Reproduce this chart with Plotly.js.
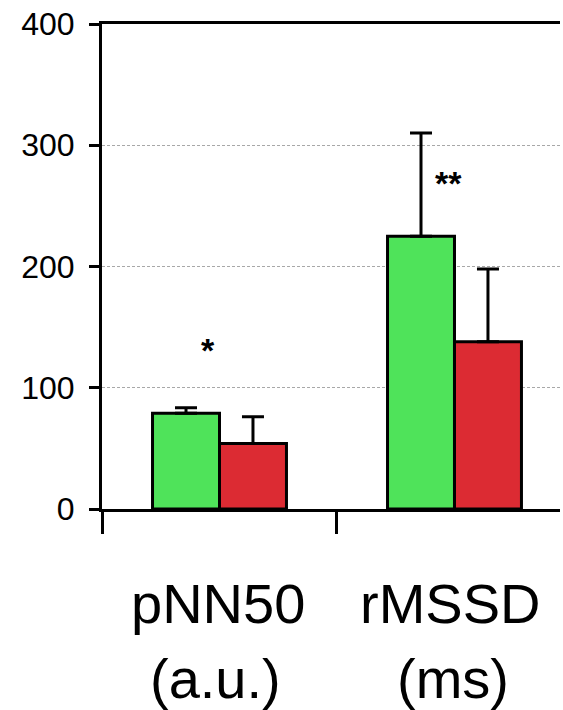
<!DOCTYPE html>
<html>
<head>
<meta charset="utf-8">
<script src="https://cdn.plot.ly/plotly-3.0.1.min.js"></script>
<style>html,body{margin:0;padding:0;background:#fff;}#chart{width:563px;height:710px;}</style>
</head>
<body>
<div id="chart"></div>
<script>
const categories = ['pNN50', 'rMSSD'];
const units = ['(a.u.)', '(ms)'];
const greenValues = [79, 225];
const greenErrors = [4.5, 85];
const redValues = [54, 138];
const redErrors = [22, 60];
const yTickVals = [0, 100, 200, 300, 400];
const yTickText = ['0', '100', '200', '300', '400'];
const sigMarks = ['*', '**'];
const sigLevels = [131, 269];
const sigShift = [-12, -6];

const FONT = 'Liberation Sans, Arial, Helvetica, sans-serif';

function barTrace(vals, errs, color) {
  return {
    type: 'bar', x: categories, y: vals,
    marker: {color: color, line: {color: '#000', width: 3}},
    error_y: {type: 'data', symmetric: false, array: errs, arrayminus: errs.map(() => 0),
              color: '#000', thickness: 3, width: 11},
    hoverinfo: 'none'
  };
}

const data = [
  barTrace(greenValues, greenErrors, '#4FE35A'),
  barTrace(redValues, redErrors, '#DC2B33')
];

const annotations = [];
categories.forEach((c, i) => {
  annotations.push({x: c, xref: 'x', y: -0.195, yref: 'paper', text: c, showarrow: false,
    xshift: i === 1 ? -4 : -2,
    xanchor: 'center', yanchor: 'middle', font: {family: FONT, size: 56, color: '#000'}});
  annotations.push({x: c, xref: 'x', y: -0.35, yref: 'paper', text: units[i], showarrow: false,
    xshift: i === 1 ? -1 : -4,
    xanchor: 'center', yanchor: 'middle', font: {family: FONT, size: 56, color: '#000'}});
  annotations.push({x: c, xref: 'x', y: sigLevels[i], yref: 'y', text: '<b>' + sigMarks[i] + '</b>', showarrow: false,
    xshift: sigShift[i], xanchor: 'center', yanchor: 'middle', font: {family: FONT, size: 34, color: '#000'}});
});

const layout = {
  width: 563, height: 710,
  margin: {l: 102, r: 3, t: 24, b: 201},
  paper_bgcolor: '#fff', plot_bgcolor: '#fff',
  showlegend: false,
  barmode: 'group', bargap: 0.43, bargroupgap: 0,
  font: {family: FONT, color: '#000'},
  xaxis: {
    type: 'category', range: [-0.5, 1.449], fixedrange: true,
    showgrid: false, zeroline: false,
    showline: true, linecolor: '#000', linewidth: 3, mirror: true,
    ticks: 'outside', tickson: 'boundaries', ticklen: 22, tickwidth: 3, tickcolor: '#000',
    showticklabels: false
  },
  yaxis: {
    range: [0, 400], fixedrange: true,
    tickvals: yTickVals, ticktext: yTickText,
    showgrid: true, gridcolor: '#a8a8a8', gridwidth: 1, griddash: '3px,2px',
    zeroline: false,
    showline: true, linecolor: '#000', linewidth: 3,
    ticks: 'outside', ticklen: 10, tickwidth: 3, tickcolor: '#000',
    ticklabelstandoff: 8,
    tickfont: {family: FONT, size: 32, color: '#000'}
  },
  annotations: annotations
};

Plotly.newPlot('chart', data, layout, {staticPlot: true, displayModeBar: false});
</script>
</body>
</html>
